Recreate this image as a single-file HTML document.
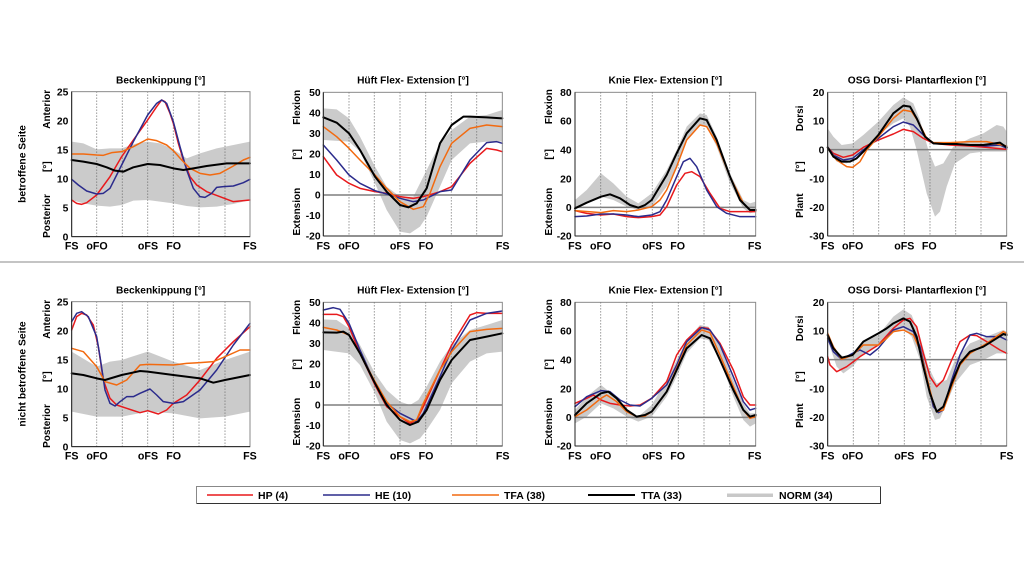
<!DOCTYPE html>
<html><head><meta charset="utf-8"><style>
html,body{margin:0;padding:0;background:#fff;}
svg{display:block;}
text{font-family:"Liberation Sans",Arial,sans-serif;font-weight:bold;fill:#000;}
.band{fill:#cbcbcb;stroke:none;}
.g{stroke:#666;stroke-width:3;stroke-dasharray:3 6;fill:none;}
.z{stroke:#7f7f7f;stroke-width:4.5;}
.r,.b,.o,.k{fill:none;stroke-linejoin:round;stroke-linecap:round;stroke-width:4.5;}
.r{stroke:#e8191c;}
.b{stroke:#2b2b8c;}
.o{stroke:#f26a10;}
.k{stroke:#000;stroke-width:6;}
.box{fill:none;stroke:#8a8a8a;stroke-width:3;}
.ax{stroke:#222;stroke-width:3;}
.tk{font-size:31px;text-anchor:end;}
.xl{font-size:32px;text-anchor:middle;}
.yl{font-size:30px;text-anchor:middle;}
.ti{font-size:30.5px;text-anchor:middle;}
.rl{font-size:10.3px;text-anchor:middle;}
.lg{font-size:10.5px;}
</style></head><body>
<svg width="1024" height="576" viewBox="0 0 1024 576" xmlns="http://www.w3.org/2000/svg">
<rect width="1024" height="576" fill="#fff"/>

<!-- Row labels -->
<text class="rl" transform="translate(22,164) rotate(-90)" dy="0.35em">betroffene Seite</text>
<text class="rl" transform="translate(22,374) rotate(-90)" dy="0.35em">nicht betroffene Seite</text>

<!-- separator -->
<line x1="0" y1="262" x2="1024" y2="262" stroke="#888" stroke-width="1"/>

<!-- ================= P1 top: Beckenkippung ================= -->
<g transform="translate(0,60) scale(0.333333)">
<polygon class="band" points="215,245 250,250 290,268 330,265 365,265 410,250 443,245 480,250 520,268 560,295 600,280 650,265 700,255 750,245 750,420 700,432 650,440 600,442 560,438 520,430 480,425 443,420 400,422 365,435 330,440 290,437 250,430 215,420"/>
<g class="g"><line x1="290" y1="95" x2="290" y2="530"/><line x1="367" y1="95" x2="367" y2="530"/><line x1="443" y1="95" x2="443" y2="530"/><line x1="520" y1="95" x2="520" y2="530"/><line x1="597" y1="95" x2="597" y2="530"/><line x1="675" y1="95" x2="675" y2="530"/></g>
<polyline class="r" points="215,420 230,430 245,433 260,428 290,405 330,350 365,290 400,240 443,180 470,140 485,120 495,125 510,160 520,190 535,250 550,300 570,350 590,375 620,395 660,410 700,425 750,420"/>
<polyline class="b" points="215,358 235,375 260,393 290,402 310,400 330,385 365,315 400,245 443,165 470,130 485,120 500,130 520,185 540,260 560,330 580,385 600,410 615,412 635,400 650,382 670,380 700,378 730,368 750,358"/>
<polyline class="o" points="215,282 250,282 290,285 310,286 335,278 365,275 400,260 443,237 470,242 500,255 520,272 545,300 570,325 600,340 630,345 660,340 700,318 730,300 750,292"/>
<polyline class="k" points="215,300 250,305 290,312 320,322 345,332 370,335 400,322 443,312 480,315 520,325 550,330 580,325 620,318 680,310 750,310"/>
<rect class="box" x="215" y="95" width="535" height="435"/>
<line class="ax" x1="215" y1="95" x2="215" y2="530"/><line class="ax" x1="215" y1="530" x2="750" y2="530"/>
<text class="ti" x="482" y="71">Beckenkippung [°]</text>
<text class="tk" x="205" y="106">25</text><text class="tk" x="205" y="193">20</text><text class="tk" x="205" y="280">15</text><text class="tk" x="205" y="367">10</text><text class="tk" x="205" y="454">5</text><text class="tk" x="205" y="541">0</text>
<text class="yl" transform="translate(140,148) rotate(-90)" dy="0.35em">Anterior</text>
<text class="yl" transform="translate(140,320) rotate(-90)" dy="0.35em">[°]</text>
<text class="yl" transform="translate(140,468) rotate(-90)" dy="0.35em">Posterior</text>
<text class="xl" x="215" y="568">FS</text><text class="xl" x="291" y="568">oFO</text><text class="xl" x="444" y="568">oFS</text><text class="xl" x="521" y="568">FO</text><text class="xl" x="750" y="568">FS</text>
</g>

<!-- ================= P2 top: Hüft ================= -->
<g transform="translate(270,60) scale(0.333333)">
<polygon class="band" points="160,145 200,148 237,175 270,230 315,320 350,380 390,410 430,410 470,330 510,250 545,210 600,170 650,165 697,150 697,245 650,245 600,250 545,300 510,380 470,470 450,500 420,520 390,515 350,450 315,370 270,275 237,245 160,240"/>
<g class="g"><line x1="237" y1="97" x2="237" y2="528"/><line x1="313" y1="97" x2="313" y2="528"/><line x1="390" y1="97" x2="390" y2="528"/><line x1="467" y1="97" x2="467" y2="528"/><line x1="544" y1="97" x2="544" y2="528"/><line x1="620" y1="97" x2="620" y2="528"/></g>
<line class="z" x1="160" y1="405" x2="697" y2="405"/>
<polyline class="r" points="160,290 200,345 237,370 270,385 315,395 350,400 390,410 430,415 460,410 510,395 545,380 600,310 650,265 680,270 697,275"/>
<polyline class="b" points="160,255 200,300 237,345 270,370 315,392 350,402 390,415 430,425 460,420 510,395 545,390 600,300 650,248 680,245 697,250"/>
<polyline class="o" points="160,200 200,230 237,265 270,300 315,345 350,385 390,425 430,448 460,440 480,400 510,320 545,250 600,205 650,195 697,200"/>
<polyline class="k" points="160,172 200,188 237,220 270,270 315,350 350,395 390,435 415,442 440,430 470,385 510,250 545,195 580,170 600,170 650,172 697,175"/>
<rect class="box" x="160" y="97" width="537" height="431"/>
<line class="ax" x1="160" y1="97" x2="160" y2="528"/><line class="ax" x1="160" y1="528" x2="697" y2="528"/>
<text class="ti" x="429" y="71">Hüft Flex- Extension [°]</text>
<text class="tk" x="152" y="108">50</text><text class="tk" x="152" y="170">40</text><text class="tk" x="152" y="231">30</text><text class="tk" x="152" y="293">20</text><text class="tk" x="152" y="354">10</text><text class="tk" x="152" y="416">0</text><text class="tk" x="152" y="477">-10</text><text class="tk" x="152" y="539">-20</text>
<text class="yl" transform="translate(80,142) rotate(-90)" dy="0.35em">Flexion</text>
<text class="yl" transform="translate(80,283) rotate(-90)" dy="0.35em">[°]</text>
<text class="yl" transform="translate(80,455) rotate(-90)" dy="0.35em">Extension</text>
<text class="xl" x="160" y="568">FS</text><text class="xl" x="237" y="568">oFO</text><text class="xl" x="390" y="568">oFS</text><text class="xl" x="468" y="568">FO</text><text class="xl" x="698" y="568">FS</text>
</g>

<!-- ================= P3 top: Knie ================= -->
<g transform="translate(520,60) scale(0.333333)">
<polygon class="band" points="165,420 200,390 243,340 280,370 320,410 355,430 395,400 440,330 470,270 500,200 540,160 560,165 590,230 630,340 670,420 690,430 707,425 707,455 690,460 670,445 630,370 590,260 560,200 540,195 500,240 470,320 440,380 395,440 355,450 320,440 280,420 243,410 200,425 165,450"/>
<g class="g"><line x1="242" y1="97" x2="242" y2="528"/><line x1="320" y1="97" x2="320" y2="528"/><line x1="397" y1="97" x2="397" y2="528"/><line x1="475" y1="97" x2="475" y2="528"/><line x1="552" y1="97" x2="552" y2="528"/><line x1="629" y1="97" x2="629" y2="528"/></g>
<line class="z" x1="165" y1="442" x2="707" y2="442"/>
<polyline class="r" points="165,452 200,460 243,465 280,462 320,470 355,473 395,470 420,465 440,440 470,375 495,340 515,335 540,350 570,400 600,445 630,455 707,455"/>
<polyline class="b" points="165,470 200,468 243,462 280,462 320,465 355,470 395,465 420,455 440,420 470,350 490,305 510,295 530,320 560,390 590,440 620,460 660,470 707,470"/>
<polyline class="o" points="165,452 243,458 280,452 320,455 355,450 395,440 420,420 440,390 470,320 500,240 540,195 560,200 590,250 630,350 670,430 690,450 707,450"/>
<polyline class="k" points="165,445 200,428 243,410 270,403 300,415 330,435 355,443 375,435 395,420 440,345 470,280 500,220 540,175 560,180 590,240 630,350 660,420 690,450 707,450"/>
<rect class="box" x="165" y="97" width="542" height="431"/>
<line class="ax" x1="165" y1="97" x2="165" y2="528"/><line class="ax" x1="165" y1="528" x2="707" y2="528"/>
<text class="ti" x="436" y="71">Knie Flex- Extension [°]</text>
<text class="tk" x="155" y="108">80</text><text class="tk" x="155" y="194">60</text><text class="tk" x="155" y="280">40</text><text class="tk" x="155" y="367">20</text><text class="tk" x="155" y="453">0</text><text class="tk" x="155" y="539">-20</text>
<text class="yl" transform="translate(85,140) rotate(-90)" dy="0.35em">Flexion</text>
<text class="yl" transform="translate(85,283) rotate(-90)" dy="0.35em">[°]</text>
<text class="yl" transform="translate(85,455) rotate(-90)" dy="0.35em">Extension</text>
<text class="xl" x="165" y="568">FS</text><text class="xl" x="242" y="568">oFO</text><text class="xl" x="397" y="568">oFS</text><text class="xl" x="473" y="568">FO</text><text class="xl" x="704" y="568">FS</text>
</g>

<!-- ================= P4 top: OSG ================= -->
<g transform="translate(770,60) scale(0.333333)">
<polygon class="band" points="173,205 190,230 215,255 248,250 280,225 325,185 370,135 400,112 430,130 450,180 475,270 495,320 520,310 550,260 600,235 640,220 680,195 700,200 710,215 710,275 680,275 640,275 600,280 555,310 530,380 510,455 495,470 470,400 440,270 420,200 400,175 370,190 325,225 280,270 248,300 230,310 200,305 173,270"/>
<g class="g"><line x1="250" y1="97" x2="250" y2="528"/><line x1="326" y1="97" x2="326" y2="528"/><line x1="403" y1="97" x2="403" y2="528"/><line x1="480" y1="97" x2="480" y2="528"/><line x1="557" y1="97" x2="557" y2="528"/><line x1="633" y1="97" x2="633" y2="528"/></g>
<line class="z" x1="173" y1="269" x2="710" y2="269"/>
<polyline class="r" points="173,262 190,280 220,292 248,285 280,262 325,240 370,222 400,208 430,215 460,235 490,250 540,255 600,258 650,262 710,268"/>
<polyline class="b" points="173,262 190,285 220,300 248,295 280,270 325,235 370,200 400,186 430,195 460,225 490,250 540,252 600,255 650,258 690,255 710,265"/>
<polyline class="o" points="173,265 200,300 230,320 248,322 270,305 290,270 325,230 370,175 400,150 425,155 445,185 470,235 490,248 540,248 600,245 650,245 710,258"/>
<polyline class="k" points="173,262 190,290 215,305 240,305 260,295 280,275 325,225 370,160 400,137 420,140 440,175 465,230 490,250 520,252 560,252 600,255 640,255 690,248 710,262"/>
<rect class="box" x="173" y="97" width="537" height="431"/>
<line class="ax" x1="173" y1="97" x2="173" y2="528"/><line class="ax" x1="173" y1="528" x2="710" y2="528"/>
<text class="ti" x="441" y="71">OSG Dorsi- Plantarflexion [°]</text>
<text class="tk" x="163" y="108">20</text><text class="tk" x="163" y="194">10</text><text class="tk" x="163" y="280">0</text><text class="tk" x="163" y="367">-10</text><text class="tk" x="163" y="453">-20</text><text class="tk" x="163" y="539">-30</text>
<text class="yl" transform="translate(88,175) rotate(-90)" dy="0.35em">Dorsi</text>
<text class="yl" transform="translate(88,320) rotate(-90)" dy="0.35em">[°]</text>
<text class="yl" transform="translate(88,437) rotate(-90)" dy="0.35em">Plant</text>
<text class="xl" x="173" y="568">FS</text><text class="xl" x="248" y="568">oFO</text><text class="xl" x="403" y="568">oFS</text><text class="xl" x="478" y="568">FO</text><text class="xl" x="710" y="568">FS</text>
</g>

<!-- ================= P5 bottom: Beckenkippung ================= -->
<g transform="translate(0,270) scale(0.333333)">
<polygon class="band" points="215,245 290,290 330,275 365,270 443,245 520,275 600,300 675,270 750,245 750,425 675,440 600,445 520,430 443,425 365,440 290,440 215,425"/>
<g class="g"><line x1="290" y1="95" x2="290" y2="530"/><line x1="367" y1="95" x2="367" y2="530"/><line x1="443" y1="95" x2="443" y2="530"/><line x1="520" y1="95" x2="520" y2="530"/><line x1="597" y1="95" x2="597" y2="530"/><line x1="675" y1="95" x2="675" y2="530"/></g>
<polyline class="r" points="215,180 230,140 245,130 260,135 280,165 295,230 310,330 330,385 350,405 380,415 420,428 443,422 475,432 500,420 520,400 560,375 600,330 650,265 700,215 750,170"/>
<polyline class="b" points="215,155 230,130 245,125 265,140 290,200 300,260 315,360 330,400 345,408 360,395 380,380 400,380 420,370 450,357 470,375 490,395 520,400 550,395 600,360 650,300 700,225 750,160"/>
<polyline class="o" points="215,235 250,245 290,290 315,335 350,345 380,330 420,285 443,283 520,285 560,280 600,278 640,275 675,260 720,240 750,240"/>
<polyline class="k" points="215,310 250,315 290,325 315,330 365,315 420,303 443,305 520,315 600,325 640,338 675,330 750,315"/>
<rect class="box" x="215" y="95" width="535" height="435"/>
<line class="ax" x1="215" y1="95" x2="215" y2="530"/><line class="ax" x1="215" y1="530" x2="750" y2="530"/>
<text class="ti" x="482" y="71">Beckenkippung [°]</text>
<text class="tk" x="205" y="106">25</text><text class="tk" x="205" y="193">20</text><text class="tk" x="205" y="280">15</text><text class="tk" x="205" y="367">10</text><text class="tk" x="205" y="454">5</text><text class="tk" x="205" y="541">0</text>
<text class="yl" transform="translate(140,148) rotate(-90)" dy="0.35em">Anterior</text>
<text class="yl" transform="translate(140,320) rotate(-90)" dy="0.35em">[°]</text>
<text class="yl" transform="translate(140,468) rotate(-90)" dy="0.35em">Posterior</text>
<text class="xl" x="215" y="568">FS</text><text class="xl" x="291" y="568">oFO</text><text class="xl" x="444" y="568">oFS</text><text class="xl" x="521" y="568">FO</text><text class="xl" x="750" y="568">FS</text>
</g>

<!-- ================= P6 bottom: Hüft ================= -->
<g transform="translate(270,270) scale(0.333333)">
<polygon class="band" points="160,148 200,150 237,175 270,225 315,310 350,360 390,395 420,405 445,390 470,350 510,275 545,225 600,180 650,165 697,150 697,245 650,250 600,275 545,340 510,420 470,480 450,505 420,520 390,510 350,455 315,370 270,285 237,250 160,240"/>
<g class="g"><line x1="237" y1="97" x2="237" y2="528"/><line x1="313" y1="97" x2="313" y2="528"/><line x1="390" y1="97" x2="390" y2="528"/><line x1="467" y1="97" x2="467" y2="528"/><line x1="544" y1="97" x2="544" y2="528"/><line x1="620" y1="97" x2="620" y2="528"/></g>
<line class="z" x1="160" y1="405" x2="697" y2="405"/>
<polyline class="r" points="160,133 200,133 220,140 237,170 270,250 315,345 350,410 390,440 420,460 440,450 460,410 510,300 545,225 600,135 620,128 650,130 697,130"/>
<polyline class="b" points="160,120 190,113 210,118 237,160 270,240 315,340 350,400 390,430 420,445 440,455 460,430 510,320 545,240 600,150 650,130 697,123"/>
<polyline class="o" points="160,172 200,180 237,195 270,250 315,335 350,395 390,440 420,455 440,450 460,400 510,300 545,245 600,185 650,178 697,175"/>
<polyline class="k" points="160,187 200,188 220,185 237,195 270,250 315,340 350,405 390,450 420,465 445,455 470,420 510,330 545,270 600,210 650,200 697,190"/>
<rect class="box" x="160" y="97" width="537" height="431"/>
<line class="ax" x1="160" y1="97" x2="160" y2="528"/><line class="ax" x1="160" y1="528" x2="697" y2="528"/>
<text class="ti" x="429" y="71">Hüft Flex- Extension [°]</text>
<text class="tk" x="152" y="108">50</text><text class="tk" x="152" y="170">40</text><text class="tk" x="152" y="231">30</text><text class="tk" x="152" y="293">20</text><text class="tk" x="152" y="354">10</text><text class="tk" x="152" y="416">0</text><text class="tk" x="152" y="477">-10</text><text class="tk" x="152" y="539">-20</text>
<text class="yl" transform="translate(80,142) rotate(-90)" dy="0.35em">Flexion</text>
<text class="yl" transform="translate(80,283) rotate(-90)" dy="0.35em">[°]</text>
<text class="yl" transform="translate(80,455) rotate(-90)" dy="0.35em">Extension</text>
<text class="xl" x="160" y="568">FS</text><text class="xl" x="237" y="568">oFO</text><text class="xl" x="390" y="568">oFS</text><text class="xl" x="468" y="568">FO</text><text class="xl" x="698" y="568">FS</text>
</g>

<!-- ================= P7 bottom: Knie ================= -->
<g transform="translate(520,270) scale(0.333333)">
<polygon class="band" points="165,420 200,380 243,345 280,375 320,420 355,440 395,405 440,330 470,270 500,210 540,165 565,170 600,230 640,330 670,400 690,430 707,430 707,460 690,470 670,450 640,380 600,270 565,210 540,205 500,250 470,320 440,380 395,440 355,455 320,440 280,415 243,400 200,440 165,460"/>
<g class="g"><line x1="242" y1="97" x2="242" y2="528"/><line x1="320" y1="97" x2="320" y2="528"/><line x1="397" y1="97" x2="397" y2="528"/><line x1="475" y1="97" x2="475" y2="528"/><line x1="552" y1="97" x2="552" y2="528"/><line x1="629" y1="97" x2="629" y2="528"/></g>
<line class="z" x1="165" y1="442" x2="707" y2="442"/>
<polyline class="r" points="165,400 200,385 220,375 243,390 270,400 300,405 330,408 360,405 395,385 440,335 470,255 500,210 540,172 565,175 600,220 640,300 670,380 690,405 707,405"/>
<polyline class="b" points="165,410 200,380 243,362 270,365 300,390 330,405 360,408 395,385 440,345 470,285 500,215 545,173 570,180 600,225 640,320 670,395 690,420 707,415"/>
<polyline class="o" points="165,440 200,420 243,385 260,375 290,395 320,425 350,440 375,438 395,425 440,365 470,295 500,225 545,180 570,188 600,255 640,350 670,420 690,445 707,440"/>
<polyline class="k" points="165,435 200,400 243,370 265,365 290,385 320,420 350,440 375,435 395,425 440,365 470,300 500,235 545,195 570,205 600,270 640,360 670,420 690,440 707,435"/>
<rect class="box" x="165" y="97" width="542" height="431"/>
<line class="ax" x1="165" y1="97" x2="165" y2="528"/><line class="ax" x1="165" y1="528" x2="707" y2="528"/>
<text class="ti" x="436" y="71">Knie Flex- Extension [°]</text>
<text class="tk" x="155" y="108">80</text><text class="tk" x="155" y="194">60</text><text class="tk" x="155" y="280">40</text><text class="tk" x="155" y="367">20</text><text class="tk" x="155" y="453">0</text><text class="tk" x="155" y="539">-20</text>
<text class="yl" transform="translate(85,140) rotate(-90)" dy="0.35em">Flexion</text>
<text class="yl" transform="translate(85,283) rotate(-90)" dy="0.35em">[°]</text>
<text class="yl" transform="translate(85,455) rotate(-90)" dy="0.35em">Extension</text>
<text class="xl" x="165" y="568">FS</text><text class="xl" x="242" y="568">oFO</text><text class="xl" x="397" y="568">oFS</text><text class="xl" x="473" y="568">FO</text><text class="xl" x="704" y="568">FS</text>
</g>

<!-- ================= P8 bottom: OSG ================= -->
<g transform="translate(770,270) scale(0.333333)">
<polygon class="band" points="173,190 200,245 220,260 248,250 280,215 325,195 370,140 400,118 425,135 450,200 475,290 500,340 530,330 555,270 600,220 650,200 700,180 710,185 710,250 680,250 640,270 600,285 555,340 530,400 510,445 495,450 470,380 450,270 425,200 400,175 370,185 325,225 280,250 248,290 220,310 200,290 173,210"/>
<g class="g"><line x1="250" y1="97" x2="250" y2="528"/><line x1="326" y1="97" x2="326" y2="528"/><line x1="403" y1="97" x2="403" y2="528"/><line x1="480" y1="97" x2="480" y2="528"/><line x1="557" y1="97" x2="557" y2="528"/><line x1="633" y1="97" x2="633" y2="528"/></g>
<line class="z" x1="173" y1="269" x2="710" y2="269"/>
<polyline class="r" points="173,260 180,285 200,305 230,290 270,260 325,225 370,175 400,150 420,145 440,170 460,250 480,320 500,350 520,330 545,270 570,215 600,195 620,197 650,215 690,240 710,250"/>
<polyline class="b" points="173,205 190,245 215,268 248,250 270,240 300,255 325,235 370,180 400,170 430,185 450,230 470,320 490,410 505,428 520,420 545,330 570,255 600,195 620,190 650,200 690,200 710,210"/>
<polyline class="o" points="173,190 190,230 215,268 248,255 280,225 325,225 350,205 370,185 400,180 430,195 450,240 470,320 490,400 500,425 520,420 545,350 570,285 600,250 650,220 700,185 710,190"/>
<polyline class="k" points="173,195 190,235 215,263 248,255 280,215 325,190 350,175 370,160 400,145 420,155 440,200 460,290 480,370 500,425 520,410 545,340 570,280 600,245 640,230 680,205 700,192 710,195"/>
<rect class="box" x="173" y="97" width="537" height="431"/>
<line class="ax" x1="173" y1="97" x2="173" y2="528"/><line class="ax" x1="173" y1="528" x2="710" y2="528"/>
<text class="ti" x="441" y="71">OSG Dorsi- Plantarflexion [°]</text>
<text class="tk" x="163" y="108">20</text><text class="tk" x="163" y="194">10</text><text class="tk" x="163" y="280">0</text><text class="tk" x="163" y="367">-10</text><text class="tk" x="163" y="453">-20</text><text class="tk" x="163" y="539">-30</text>
<text class="yl" transform="translate(88,175) rotate(-90)" dy="0.35em">Dorsi</text>
<text class="yl" transform="translate(88,320) rotate(-90)" dy="0.35em">[°]</text>
<text class="yl" transform="translate(88,437) rotate(-90)" dy="0.35em">Plant</text>
<text class="xl" x="173" y="568">FS</text><text class="xl" x="248" y="568">oFO</text><text class="xl" x="403" y="568">oFS</text><text class="xl" x="478" y="568">FO</text><text class="xl" x="710" y="568">FS</text>
</g>

<!-- ================= Legend ================= -->
<rect x="196.5" y="486.5" width="684" height="17" fill="#fff" stroke="#888" stroke-width="1"/>
<line x1="880.5" y1="487" x2="880.5" y2="504" stroke="#333" stroke-width="1"/>
<line x1="197" y1="503.5" x2="881" y2="503.5" stroke="#333" stroke-width="1"/>
<line x1="207" y1="495" x2="253" y2="495" stroke="#e8191c" stroke-width="1.5"/>
<text class="lg" x="258" y="499">HP (4)</text>
<line x1="323" y1="495" x2="370" y2="495" stroke="#2b2b8c" stroke-width="1.5"/>
<text class="lg" x="375" y="499">HE (10)</text>
<line x1="452" y1="495" x2="499" y2="495" stroke="#f26a10" stroke-width="1.5"/>
<text class="lg" x="504" y="499">TFA (38)</text>
<line x1="588" y1="495" x2="635" y2="495" stroke="#000" stroke-width="2"/>
<text class="lg" x="641" y="499">TTA (33)</text>
<rect x="727" y="493.5" width="46" height="3.5" fill="#c8c8c8"/>
<text class="lg" x="779" y="499">NORM (34)</text>
</svg>
</body></html>
